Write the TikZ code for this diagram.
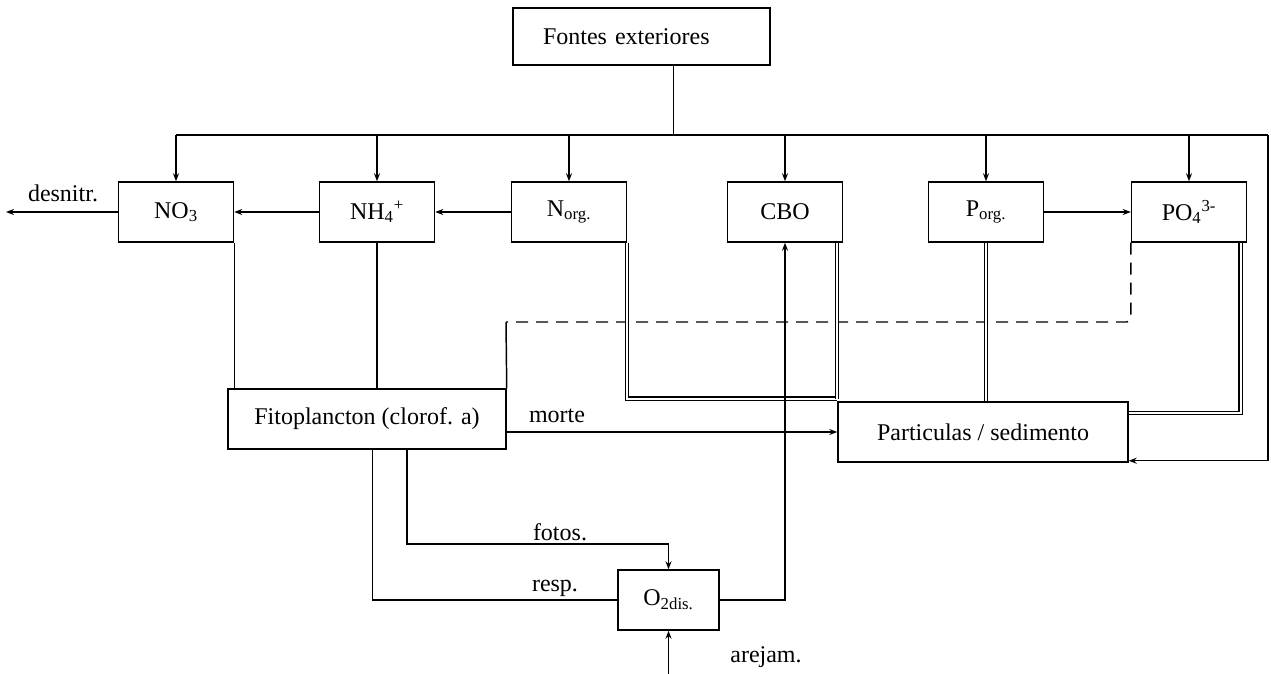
\documentclass[tikz,border=0pt]{standalone}
\usepackage{fontspec}
\setmainfont{Liberation Serif}
\usetikzlibrary{arrows.meta}

\tikzset{every picture/.style={line width=1.1pt}}
\tikzset{
  pool/.style={draw, rectangle, minimum width=86.25pt, minimum height=45pt, inner sep=0.75pt, font=\fontsize{18}{21}\selectfont},
  lbl/.style={inner sep=0.75pt, font=\fontsize{18}{21}\selectfont},
  flow/.style={-{Stealth[length=6pt,width=4.5pt]}},
  sink/.style={double, double distance=1.6pt, line width=0.8pt},
}

\begin{document}
\begin{tikzpicture}[x=0.75pt,y=0.75pt,yscale=-1,xscale=1]
\useasboundingbox (0,0) rectangle (1271,674);

%Shape: Rectangle
\node[pool, minimum width=192.75pt, minimum height=42.75pt, inner xsep=22.5pt, text width=147.75pt, align=left] (fontes) at (641.5,36.5) {Fontes exteriores};

%Shape: Rectangle
\node[pool] (no3) at (176,212) {NO\textsubscript{3}};
\node[pool] (nh4) at (377,212) {NH\textsubscript{4}\textsuperscript{+}};
\node[pool] (norg) at (569,212) {N\textsubscript{org.}};
\node[pool] (cbo) at (785,212) {CBO};
\node[pool] (porg) at (986,212) {P\textsubscript{org.}};
\node[pool] (po4) at (1189,212) {PO\textsubscript{4}\textsuperscript{3-}};

%Shape: Rectangle
\node[pool, minimum width=208.5pt] (fito) at (367,419) {Fitoplancton (clorof. a)};
\node[pool, minimum width=217.5pt] (part) at (983,432) {Particulas / sedimento};
\node[pool, minimum width=75.75pt] (o2) at (668.5,600) {O\textsubscript{2dis.}};

\coordinate (busL) at (176,135);
\coordinate (busR) at (1268,135);
\coordinate (denit) at (6,212);
\coordinate (uptake) at (506,322);
\coordinate (air) at (668.5,674);

%Straight Lines
\draw ([xshift=24pt]fontes.south) -- ([xshift=24pt]fontes.south |- busL);
\draw (busL) -- (busR);
\foreach \n in {no3,nh4,norg,cbo,porg,po4}
  \draw[flow] (\n.north |- busL) -- (\n.north);

%Straight Lines
\draw[flow] (no3.west) -- (denit);
\draw[flow] (nh4.west) -- (no3.east);
\draw[flow] (norg.west) -- (nh4.east);
\draw[flow] (porg.east) -- (po4.west);

%Straight Lines
\draw (no3.south east) -- (no3.south east |- fito.north);
\draw (nh4.south) -- (nh4.south |- fito.north);
\draw[dashed, dash pattern=on 9pt off 6pt, rounded corners=3pt] (po4.south west) |- (uptake);
\draw (uptake) -- (fito.north east);

%Straight Lines
\draw[sink] (norg.south east) |- ([yshift=-2pt]part.north west);
\draw[sink] (cbo.south -| part.west) -- ([yshift=-2pt]part.north west);
\draw[sink] (porg.south) -- (porg.south |- part.north);
\draw[sink] ([xshift=-5pt]po4.south east) |- ([yshift=-14pt]part.east);
\draw[flow] (busR) |- ([yshift=-1.5pt]part.south east);
\draw[flow] (fito.east |- part.west) -- (part.west);

%Straight Lines
\draw[flow] ([xshift=30pt]fito.south) |- ([yshift=-19pt]o2.north) -- (o2.north);
\draw ([xshift=4pt]fito.south) |- (o2.west);
\draw[flow] (o2.east) -| (cbo.south);
\draw[flow] (air) -- (o2.south);

% Text Node
\node[lbl] (lbdenit) at (63,193) {desnitr.};
% Text Node
\node[lbl] (lbmorte) at (557,416) {morte};
% Text Node
\node[lbl] (lbfotos) at (560,532) {fotos.};
% Text Node
\node[lbl] (lbresp) at (555,588) {resp.};
% Text Node
\node[lbl] (lbair) at (766,657) {arejam.};

\end{tikzpicture}
\end{document}
